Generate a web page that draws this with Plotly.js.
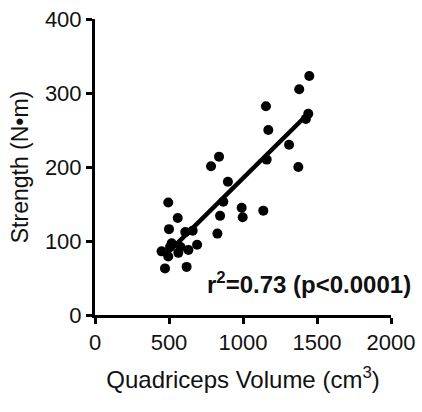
<!DOCTYPE html>
<html>
<head>
<meta charset="utf-8">
<script src="https://cdn.plot.ly/plotly-3.0.1.min.js"></script>
<style>html,body{margin:0;padding:0;background:#fff;}#chart{width:422px;height:412px;}</style>
</head>
<body>
<div id="chart"></div>
<script>
// Quadriceps volume (cm^3) and strength (N·m)
const volume = [450, 473, 495, 495, 500, 507, 518, 559, 563, 578, 610, 619, 631, 660, 690, 784, 827, 838, 845, 867, 898, 991, 998, 1137, 1155, 1160, 1171, 1311, 1374, 1380, 1425, 1441, 1448];
const strength = [86, 63, 79, 152, 116, 92, 97, 131, 84, 92, 112, 65, 88, 114, 95, 201, 110, 214, 134, 153, 180, 145, 132, 141, 282, 210, 250, 230, 200, 305, 265, 272, 323];
// Regression line end points
const fitX = [470, 1445];
const fitY = [80, 273];
const xTicks = [0, 500, 1000, 1500, 2000];
const yTicks = [0, 100, 200, 300, 400];
const statText = "r<sup>2</sup>=0.73 (p&lt;0.0001)";

const font = "Liberation Sans, Arial, sans-serif";
const traces = [
  {x: fitX, y: fitY, type: "scatter", mode: "lines", line: {color: "#000", width: 4.5}, hoverinfo: "skip"},
  {x: volume, y: strength, type: "scatter", mode: "markers", marker: {color: "#000", size: 10}, cliponaxis: false}
];
const layout = {
  width: 422, height: 412,
  margin: {l: 95, r: 31, t: 19, b: 97},
  showlegend: false,
  paper_bgcolor: "#fff", plot_bgcolor: "#fff",
  font: {family: font, color: "#111", size: 22},
  xaxis: {
    range: [0, 2000], tickvals: xTicks, ticktext: xTicks.map(String),
    showline: true, linecolor: "#000", linewidth: 3, mirror: false,
    ticks: "outside", ticklen: 6, tickwidth: 3, tickcolor: "#000",
    showgrid: false, zeroline: false, automargin: false,
    tickfont: {size: 22, family: font, color: "#111"},
    title: {text: "Quadriceps Volume (cm<sup>3</sup>)", font: {size: 24, family: font, color: "#111"}, standoff: 17}
  },
  yaxis: {
    range: [0, 400], tickvals: yTicks, ticktext: yTicks.map(String),
    showline: true, linecolor: "#000", linewidth: 3,
    ticks: "outside", ticklen: 6, tickwidth: 3, tickcolor: "#000",
    showgrid: false, zeroline: false, automargin: false,
    tickfont: {size: 22, family: font, color: "#111"},
    title: {text: "Strength (N•m)", font: {size: 23, family: font, color: "#111"}, standoff: 10}
  },
  annotations: [{
    x: 745, y: 43, xref: "x", yref: "y", xanchor: "left", yanchor: "middle",
    text: statText, showarrow: false,
    font: {size: 24, family: font, color: "#111", weight: "bold"}
  }]
};
Plotly.newPlot("chart", traces, layout, {staticPlot: true, displayModeBar: false});
</script>
</body>
</html>
